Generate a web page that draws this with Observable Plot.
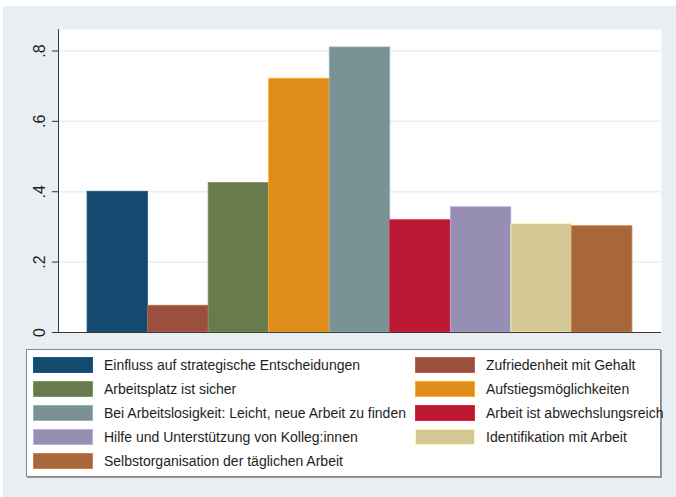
<!DOCTYPE html>
<html>
<head>
<meta charset="utf-8">
<script src="https://cdn.jsdelivr.net/npm/d3@7"></script>
<script src="https://cdn.jsdelivr.net/npm/@observablehq/plot@0.6"></script>
<style>
  html, body { margin: 0; padding: 0; background: #ffffff; }
  #page { position: relative; width: 676px; height: 497px; overflow: hidden; font-family: "Liberation Sans", Arial, sans-serif; }
  #bg { position: absolute; left: 3px; top: 6px; width: 673px; height: 491px; background: #e8eef2; }
  #chart { position: absolute; left: 0; top: 0; }
  #legend { position: absolute; left: 26px; top: 349px; width: 633px; height: 126px; background: #ffffff; border: 1px solid #8a8a8a; box-shadow: 1px 1px 0 #9a9a9a; }
  .item { position: absolute; height: 18px; display: flex; align-items: center; font-size: 14px; color: #1e1e1e; white-space: nowrap; }
  .sw { width: 60px; height: 16px; margin-right: 11px; box-sizing: border-box; }
</style>
</head>
<body>
<div id="page">
  <div id="bg"></div>
  <div id="chart"></div>
  <div id="legend"></div>
</div>
<script>
const categories = [
  "Einfluss auf strategische Entscheidungen",
  "Zufriedenheit mit Gehalt",
  "Arbeitsplatz ist sicher",
  "Aufstiegsmöglichkeiten",
  "Bei Arbeitslosigkeit: Leicht, neue Arbeit zu finden",
  "Arbeit ist abwechslungsreich",
  "Hilfe und Unterstützung von Kolleg:innen",
  "Identifikation mit Arbeit",
  "Selbstorganisation der täglichen Arbeit"
];
const values = [0.400, 0.076, 0.425, 0.721, 0.810, 0.319, 0.356, 0.308, 0.302];
const colors = ["#144a6f", "#9b4f3f", "#677b4c", "#df8c1a", "#7a9294", "#bc1733", "#978fb3", "#d3c793", "#a8673a"];
const yTicks = [0, 0.2, 0.4, 0.6, 0.8];
const yTickLabels = ["0", ".2", ".4", ".6", ".8"];

const data = categories.map((c, i) => ({cat: c, value: values[i], color: colors[i]}));

const plot = Plot.plot({
  width: 676,
  height: 345,
  marginLeft: 58,
  marginRight: 15,
  marginTop: 29,
  marginBottom: 13,
  style: {background: "transparent", fontFamily: "Liberation Sans, Arial, sans-serif"},
  x: {domain: categories, paddingInner: 0, paddingOuter: 0.48, round: false, axis: null},
  y: {domain: [0, 0.861], axis: null},
  marks: [
    Plot.frame({fill: "#ffffff", stroke: null}),
    Plot.ruleY(yTicks.filter(d => d > 0), {stroke: "#e8eef2", strokeWidth: 1.5}),
    Plot.barY(data, {
      x: "cat", y: "value",
      fill: "color",
      stroke: d => d3.color(d.color).brighter(0.6).formatHex(),
      strokeWidth: 0.8
    }),
    Plot.axisY({
      ticks: yTicks,
      tickFormat: d => yTickLabels[yTicks.indexOf(d)],
      label: null,
      tickSize: 6,
      tickPadding: 8,
      tickRotate: -90,
      fontSize: 16,
      color: "#1e1e1e",
      stroke: "#333"
    }),
    Plot.frame({anchor: "left", stroke: "#3a3a3a", strokeWidth: 1}),
    Plot.ruleY([0], {stroke: "#3a3a3a", strokeWidth: 1.2})
  ]
});
document.getElementById("chart").appendChild(plot);

const legend = document.getElementById("legend");
categories.forEach((c, i) => {
  const col = i % 2, row = Math.floor(i / 2);
  const el = document.createElement("div");
  el.className = "item";
  el.style.left = (col === 0 ? 6 : 388) + "px";
  el.style.top = (6 + row * 24) + "px";
  const sw = document.createElement("div");
  sw.className = "sw";
  sw.style.background = colors[i];
  sw.style.border = "1px solid " + d3.color(colors[i]).brighter(0.6).formatHex();
  const tx = document.createElement("span");
  tx.textContent = c;
  el.appendChild(sw);
  el.appendChild(tx);
  legend.appendChild(el);
});
</script>
</body>
</html>
